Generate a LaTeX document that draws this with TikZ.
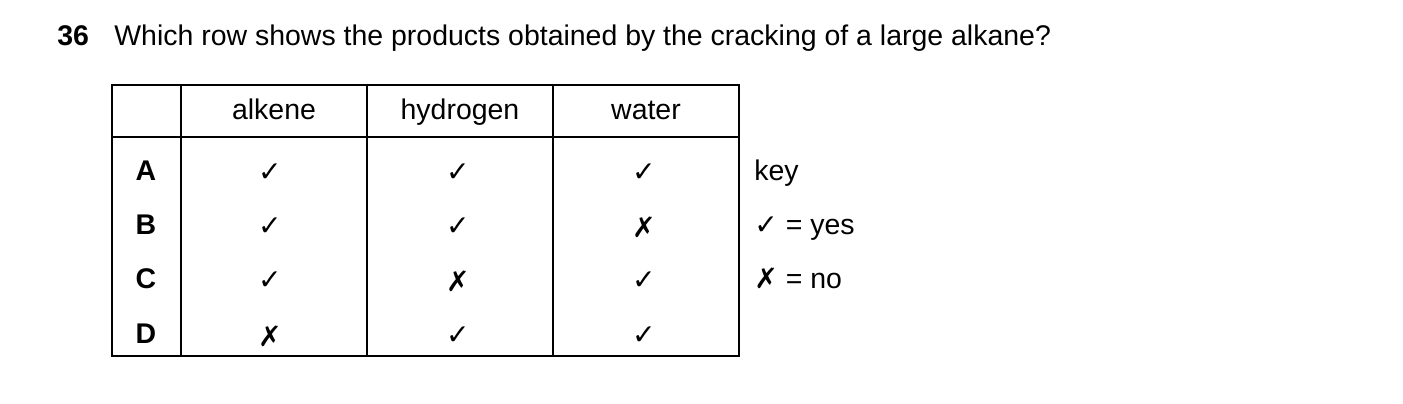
\documentclass[tikz,border=0pt]{standalone}
\usepackage{fontspec}
\setmainfont{Liberation Sans}
\newfontfamily\symfont{DejaVu Sans}
\tikzset{x=0.02cm, y=-0.02cm,
  txt/.style={font=\fontsize{16.2pt}{19pt}\selectfont, inner sep=0pt, anchor=base},
  lbl/.style={txt, font=\fontsize{16.2pt}{19pt}\selectfont\bfseries},
  tick/.style={inner sep=0pt, font=\symfont\fontsize{16pt}{19pt}\selectfont}}
\newcommand{\yes}{✓}
\newcommand{\no}{✗}
\begin{document}
\begin{tikzpicture}
    \useasboundingbox (0,0) rectangle (1403,404);
    \node[lbl, anchor=base west] (num) at (57,46) {36};
    \node[txt, anchor=base west] (question) at (114,46) {Which row shows the products obtained by the cracking of a large alkane?};
    % table frame
    \draw[line width=0.7pt] (112,85) rectangle (739,356);
    \draw[line width=0.7pt] (112,137) -- (739,137);
    \foreach \x in {181,367,553} \draw[line width=0.7pt] (\x,85) -- (\x,356);
    % header
    \node[txt] (alkene) at (274,120) {alkene};
    \node[txt] (hydrogen) at (460,120) {hydrogen};
    \node[txt] (water) at (646,120) {water};
    % rows
    \foreach \r/\y/\a/\h/\w in {A/173/\yes/\yes/\yes, B/227/\yes/\yes/\no, C/281/\yes/\no/\yes, D/336/\no/\yes/\yes} {
      \node[lbl] (row\r) at (146,\y+8) {\r};
      \node[tick] (alk\r) at (270,\y) {\a};
      \node[tick] (hyd\r) at (458,\y) {\h};
      \node[tick] (wat\r) at (644,\y) {\w};
    }
    % key
    \node[txt, anchor=base west] (key) at (754,181) {key};
    \node[txt, anchor=base west] (keyyes) at (754,235) {{\symfont\fontsize{16pt}{19pt}\selectfont\yes} = yes};
    \node[txt, anchor=base west] (keyno) at (754,289) {{\symfont\fontsize{16pt}{19pt}\selectfont\no} = no};
\end{tikzpicture}
\end{document}
